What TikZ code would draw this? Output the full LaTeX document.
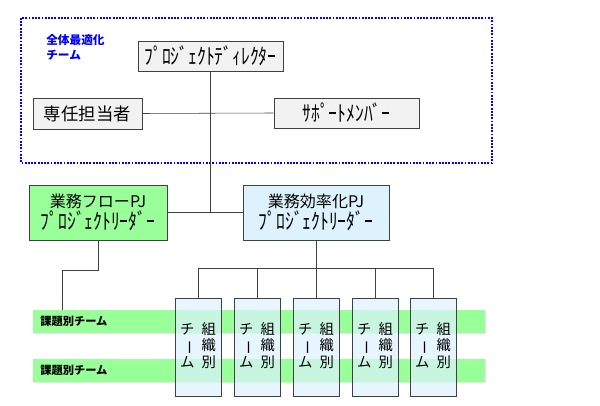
\documentclass[tikz,border=0pt]{standalone}
\usepackage{fontspec}
\setmainfont{Noto Sans CJK JP}
\usetikzlibrary{shadows}

\definecolor{boxgray}{HTML}{F2F2F2}
\definecolor{flowgreen}{HTML}{99FF99}
\definecolor{effblue}{HTML}{DDF2FD}
\definecolor{linegray}{HTML}{404040}

% チーム / 組織別 (縦書き)
\newcommand{\soshikitext}{%
  \begin{tabular}{@{}c@{\hspace{5pt}}c@{}}
  チ & 組\\
  \rotatebox[origin=c]{-90}{ー} & 織\\
  ム & 別
  \end{tabular}}
% 半角カナ
\newcommand{\hankaku}[1]{\scalebox{1}[1.25]{\fontsize{12.5pt}{14pt}\selectfont #1}}

\begin{document}
\begin{tikzpicture}[x=0.025cm, y=-0.025cm]
% Definir estilos
\tikzstyle{role} = [rectangle, draw=linegray, fill=boxgray, inner sep=0pt, text centered, drop shadow={shadow xshift=0.8pt, shadow yshift=-0.8pt, fill=gray!60}]
\tikzstyle{pj} = [rectangle, draw=linegray, inner sep=0pt, minimum width=3.5cm, minimum height=1.375cm, align=center, drop shadow={shadow xshift=0.8pt, shadow yshift=-0.8pt, fill=gray!60}]
\tikzstyle{band} = [rectangle, fill=flowgreen, minimum width=11.3cm, minimum height=0.575cm, inner sep=0pt, drop shadow={shadow xshift=0.8pt, shadow yshift=-0.8pt, fill=gray!40}]
\tikzstyle{team} = [rectangle, draw=linegray, fill=effblue, fill opacity=0.7, text opacity=1, minimum width=1.15cm, minimum height=2.45cm, inner sep=0pt, font=\fontsize{10.2pt}{10.7pt}\selectfont]
\tikzstyle{conn} = [linegray, thin]

\useasboundingbox (0,0) rectangle (600,406);

% 全体最適化チーム
\draw[blue, densely dotted, line width=1.3pt] (21,18) rectangle (492,163);
\node[blue, align=left, anchor=north west, inner sep=0pt, font=\fontsize{8.3pt}{10.5pt}\selectfont\bfseries] (zentai) at (46,34) {全体最適化\\チーム};

\node[role, minimum width=3.625cm, minimum height=0.75cm] (director) at (210.5,56) {\hankaku{ﾌﾟﾛｼﾞｪｸﾄﾃﾞｨﾚｸﾀｰ}};
\node[role, minimum width=2.725cm, minimum height=0.775cm, font=\fontsize{12.4pt}{14pt}\selectfont] (senin) at (87.5,113.5) {専任担当者};
\node[role, minimum width=3.625cm, minimum height=0.75cm] (support) at (346.5,113) {\hankaku{ｻﾎﾟｰﾄﾒﾝﾊﾞｰ}};

% Proyectos
\node[pj, fill=flowgreen, minimum width=3.45cm] (flow) at (98,212.5) {\fontsize{11.4pt}{14pt}\selectfont 業務フローPJ\\[1pt]\hankaku{ﾌﾟﾛｼﾞｪｸﾄﾘｰﾀﾞｰ}};
\node[pj, fill=effblue, minimum width=3.65cm] (eff) at (316,212.5) {\fontsize{11.4pt}{14pt}\selectfont 業務効率化PJ\\[1pt]\hankaku{ﾌﾟﾛｼﾞｪｸﾄﾘｰﾀﾞｰ}};

% 課題別チーム
\node[band] (band1) at (259,321.5) {};
\node[band] (band2) at (259,370.5) {};
\node[anchor=west, inner sep=0pt, font=\fontsize{8pt}{10pt}\selectfont\bfseries] (label1) at (40,321.5) {課題別チーム};
\node[anchor=west, inner sep=0pt, font=\fontsize{8pt}{10pt}\selectfont\bfseries] (label2) at (40,370.5) {課題別チーム};

% 組織別チーム
\node[team] (team1) at (198,347) {\soshikitext};
\node[team] (team2) at (257,347) {\soshikitext};
\node[team] (team3) at (316,347) {\soshikitext};
\node[team] (team4) at (375,347) {\soshikitext};
\node[team] (team5) at (433,347) {\soshikitext};

% Conexiones
\coordinate (hub) at (director.south |- eff.west);
\draw[conn] (director.south) -- (hub);
\draw[conn] (flow.east) -- (eff.west);
\draw[conn] (senin.east) -- (support.west);

\coordinate (bend1) at (98,270);
\coordinate (bend2) at (62,270);
\draw[conn] (flow.south) -- (bend1) -- (bend2) -- (bend2 |- band1.north);

\coordinate (bus) at (316,268);
\draw[conn] (eff.south) -- (bus);
\draw[conn] (team1.north |- bus) -- (team5.north |- bus);
\draw[conn] (team1.north |- bus) -- (team1.north);
\draw[conn] (team2.north |- bus) -- (team2.north);
\draw[conn] (team3.north |- bus) -- (team3.north);
\draw[conn] (team4.north |- bus) -- (team4.north);
\draw[conn] (team5.north |- bus) -- (team5.north);
\end{tikzpicture}
\end{document}
